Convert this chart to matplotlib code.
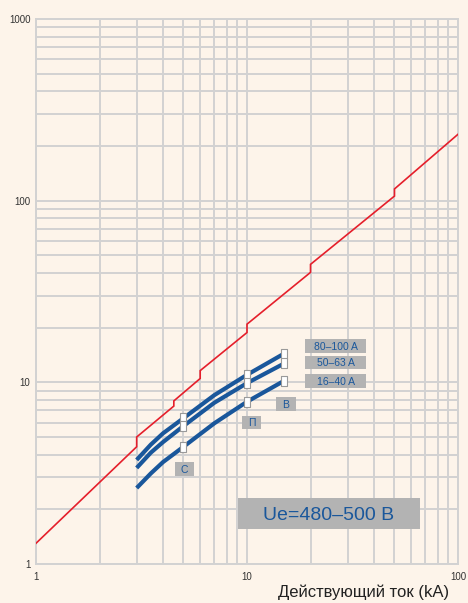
import matplotlib
matplotlib.use("Agg")
import matplotlib.pyplot as plt
from matplotlib.patches import Rectangle

# ---- data ----
red_x = [1, 3, 3, 4.5, 4.5, 6, 6, 10, 10, 20, 20, 50, 50, 100]
red_y = [1.30, 4.42, 5.0, 7.4, 7.9, 10.5, 11.6, 18.8, 20.9, 40.3, 44.6, 106, 116, 232]

curve_x = [3, 3.5, 4, 5, 7, 10, 15]
curve_80_100 = [3.74, 4.54, 5.24, 6.35, 8.5, 11.0, 14.4]
curve_50_63 = [3.38, 4.10, 4.69, 5.75, 7.72, 9.9, 12.7]
curve_16_40 = [2.62, 3.15, 3.64, 4.42, 5.95, 7.82, 10.2]
marker_idx = [3, 5, 6]

series_labels = ["80–100 A", "50–63 A", "16–40 A"]
zone_labels = ["В", "П", "С"]
title_text = "Ue=480–500 В"
xlabel_text = "Действующий ток (kA)"
x_ticks = [1, 10, 100]
y_ticks = [1, 10, 100, 1000]

# ---- style ----
bg = "#fdf4ea"
grid_c = "#d2d2d2"
blue = "#1a579b"
red = "#e51f2b"
box_c = "#b3b3b3"

fig = plt.figure(figsize=(4.68, 6.03), dpi=100, facecolor=bg)
W, H = 468, 603
L, R, T, B = 36, 458, 19, 564
ax = fig.add_axes([L / W, (H - B) / H, (R - L) / W, (B - T) / H], facecolor=bg)
ax.set_xscale("log")
ax.set_yscale("log")
ax.set_xlim(1, 100)
ax.set_ylim(1, 1000)
ax.grid(True, which="both", color=grid_c, linewidth=1.4, zorder=0)
ax.set_axisbelow(True)
for s in ax.spines.values():
    s.set_color(grid_c)
    s.set_linewidth(1.4)
ax.set_xticks(x_ticks)
ax.set_xticklabels([str(v) for v in x_ticks])
ax.set_yticks(y_ticks)
ax.set_yticklabels([str(v) for v in y_ticks])
ax.tick_params(which="both", length=0, labelsize=7, colors="#333333",
               labelfontfamily="Liberation Sans")
ax.tick_params(axis="x", pad=6)
ax.tick_params(axis="y", pad=4)

ax.plot(red_x, red_y, color=red, linewidth=1.2, zorder=3, solid_joinstyle="miter")

rect_marker = [(-0.5, -1), (0.5, -1), (0.5, 1), (-0.5, 1), (-0.5, -1)]
for ys in (curve_80_100, curve_50_63, curve_16_40):
    ax.plot(curve_x, ys, color=blue, linewidth=3.0, zorder=4,
            solid_capstyle="butt", solid_joinstyle="round")
    ax.plot([curve_x[i] for i in marker_idx], [ys[i] for i in marker_idx],
            linestyle="none", marker=rect_marker, markersize=7.5,
            markerfacecolor="white", markeredgecolor="#9a9a9a",
            markeredgewidth=0.8, zorder=5)


def px_box(x0, y0, x1, y1, text, size, family="Liberation Sans"):
    ax_x0 = (x0 - L) / (R - L)
    ax_x1 = (x1 - L) / (R - L)
    ax_y0 = (B - y1) / (B - T)
    ax_y1 = (B - y0) / (B - T)
    ax.add_patch(Rectangle((ax_x0, ax_y0), ax_x1 - ax_x0, ax_y1 - ax_y0,
                           transform=ax.transAxes, facecolor=box_c,
                           edgecolor="none", zorder=6, clip_on=False))
    ax.text((ax_x0 + ax_x1) / 2, (ax_y0 + ax_y1) / 2, text,
            transform=ax.transAxes, ha="center", va="center_baseline",
            fontsize=size, color=blue, family=family, zorder=7)


px_box(305, 339, 366, 353, series_labels[0], 7.5)
px_box(305, 356, 366, 369, series_labels[1], 7.5)
px_box(305, 374, 366, 388, series_labels[2], 7.5)
px_box(276, 397, 296, 411, zone_labels[0], 7.5)
px_box(242, 416, 261, 429, zone_labels[1], 7.5)
px_box(175, 462, 194, 476, zone_labels[2], 7.5)
px_box(238, 498, 420, 529, title_text, 14)

fig.text(449 / W, (H - 597) / H, xlabel_text, ha="right", va="baseline",
         fontsize=12, color="#222222", family="Liberation Sans")

fig.savefig("out.png", dpi=100, facecolor=bg)
